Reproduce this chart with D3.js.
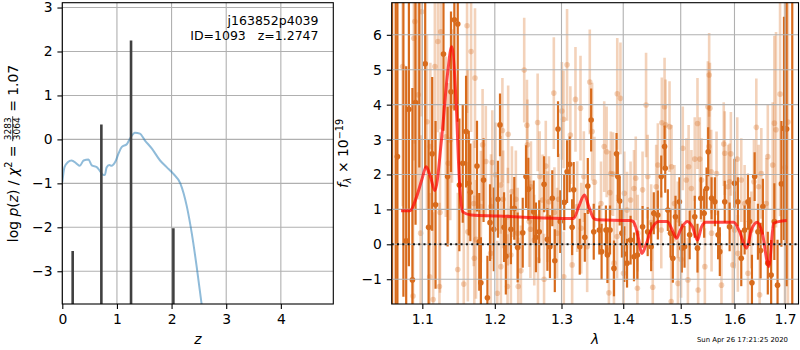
<!DOCTYPE html>
<html>
<head>
<meta charset="utf-8">
<script src="https://cdn.jsdelivr.net/npm/d3@7"></script>
<style>
  html, body { margin: 0; padding: 0; background: #fff; }
  svg { display: block; }
</style>
</head>
<body>
<script>
// ---- left panel: redshift probability ----
let pzZ = [0.00, 0.04, 0.10, 0.17, 0.26, 0.32, 0.39, 0.48, 0.54, 0.63,
           0.69, 0.74, 0.78, 0.81, 0.86, 0.90, 0.97, 1.03, 1.09, 1.18,
           1.24, 1.33, 1.42, 1.51, 1.64, 1.79, 1.91, 2.03, 2.16, 2.28,
           2.37, 2.46, 2.55, 2.61];
let pzLog = [-0.97, -0.63, -0.52, -0.48, -0.55, -0.60, -0.48, -0.46, -0.59, -0.63,
             -0.72, -0.80, -0.81, -0.64, -0.58, -0.60, -0.51, -0.32, -0.17, -0.11,
             0.02, 0.15, 0.13, -0.02, -0.21, -0.48, -0.63, -0.78, -1.00, -1.53,
             -2.14, -2.90, -3.75, -4.30];
let peakZ = [0.19, 0.715, 1.258, 2.033];
let peakTop = [-2.54, 0.34, 2.25, -2.02];
let zTicks = [0, 1, 2, 3, 4];
let logTicks = [-3, -2, -1, 0, 1, 2, 3];

// ---- right panel: spectrum [lambda, flux, error] ----
let darkSpec = [
  [1.0608, 8.2, 11.0], [1.0654, -2.4, 10.0], [1.0676, 2.51, 6.0], [1.0753, 7.5, 9.0],
  [1.0789, 0.10, 5.0], [1.0824, 3.87, 4.5], [1.0870, -1.02, 5.5], [1.0911, 4.06, 3.5],
  [1.0960, 7.2, 5.0], [1.1038, 5.17, 3.0], [1.1083, 0.49, 2.5], [1.1131, 2.59, 2.2],
  [1.1176, 1.13, 2.4], [1.1283, 5.45, 2.2], [1.1339, 1.94, 2.0], [1.1385, 4.37, 2.3],
  [1.1431, 6.43, 2.6], [1.1478, 6.31, 2.8], [1.1500, 1.70, 1.9], [1.1547, 2.32, 1.7],
  [1.1593, 3.23, 1.6], [1.1631, 1.75, 1.5], [1.1653, 1.49, 1.4], [1.1746, 2.24, 1.3],
  [1.1778, 0.07, 1.4], [1.1801, -1.10, 1.3], [1.1839, 1.84, 1.2], [1.1894, -1.53, 1.2],
  [1.1931, 0.62, 1.1], [1.1986, 0.43, 1.2], [1.2045, 1.29, 1.1], [1.2075, 3.42, 0.9],
  [1.2134, 0.49, 1.0], [1.2160, -0.34, 1.1], [1.2234, 0.43, 1.0], [1.2284, 1.03, 0.9],
  [1.2334, -0.09, 1.0], [1.2409, 0.33, 1.0], [1.2458, 1.94, 0.9], [1.2493, 1.58, 0.9],
  [1.2573, 0.93, 0.9], [1.2607, 0.20, 1.0], [1.2657, 0.36, 0.9], [1.2731, 1.72, 0.8],
  [1.2782, 0.14, 0.9], [1.2821, -0.07, 0.9], [1.2857, 1.32, 0.8], [1.2896, -0.47, 0.9],
  [1.2946, 3.30, 0.8], [1.2981, 0.65, 0.9], [1.3043, 1.20, 0.8], [1.3087, 2.08, 0.9],
  [1.3128, 2.29, 0.8], [1.3167, 0.49, 0.8], [1.3192, 1.56, 0.8], [1.3288, -0.07, 0.8],
  [1.3369, 0.20, 0.7], [1.3417, 1.67, 0.8], [1.3471, 3.56, 0.9], [1.3513, 0.36, 0.8],
  [1.3604, 0.41, 0.7], [1.3641, -0.21, 0.8], [1.3712, 0.41, 0.7], [1.3737, -0.31, 0.8],
  [1.3780, 0.41, 0.7], [1.3845, -0.69, 0.8], [1.3888, 2.59, 0.6], [1.3909, 1.94, 0.7],
  [1.3941, 1.24, 0.7], [1.3978, 0.32, 0.7], [1.4018, -0.28, 0.8], [1.4064, -0.54, 0.7],
  [1.4124, 0.12, 0.7], [1.4182, -0.36, 0.7], [1.4240, -0.31, 0.7], [1.4329, 0.50, 0.6],
  [1.4417, 0.36, 0.7], [1.4477, -0.07, 0.7], [1.4523, 0.89, 0.6], [1.4594, 0.84, 0.7],
  [1.4654, 1.94, 0.6], [1.4712, 2.80, 0.6], [1.4724, 2.18, 0.7], [1.4770, 0.98, 0.6],
  [1.4818, 0.32, 0.7], [1.4859, -0.40, 0.7], [1.4906, 0.79, 0.6], [1.4977, 1.22, 0.7],
  [1.5019, -0.11, 0.7], [1.5069, -0.07, 0.6], [1.5162, 0.27, 0.7], [1.5255, 0.79, 0.6],
  [1.5305, -0.11, 0.7], [1.5367, 1.32, 0.6], [1.5428, 0.89, 0.7], [1.5473, 1.60, 0.6],
  [1.5503, 2.65, 0.7], [1.5566, 1.32, 0.6], [1.5628, 1.22, 0.7], [1.5689, 0.27, 0.7],
  [1.5721, -0.21, 0.7], [1.5814, 1.22, 0.6], [1.5907, 0.50, 0.7], [1.6000, 1.75, 0.7],
  [1.6065, 1.22, 0.7], [1.6131, -0.40, 0.8], [1.6196, 0.41, 0.7], [1.6261, 1.22, 0.8],
  [1.6294, 0.65, 0.7], [1.6339, -1.10, 0.8], [1.6392, 1.94, 0.7], [1.6457, 0.36, 0.8],
  [1.6510, -0.18, 0.8], [1.6555, 1.08, 0.8], [1.6653, -0.54, 0.9], [1.6720, -0.88, 1.0],
  [1.6784, 0.65, 1.1], [1.6849, -1.17, 1.3], [1.6927, 1.73, 1.8], [1.6980, 3.32, 3.2],
  [1.7034, 3.30, 4.5], [1.7149, 7.6, 9.5]
];
let lightSpec = [
  [1.0743, 5.09, 4.0], [1.0878, -1.48, 3.5], [1.0888, 5.90, 3.5], [1.0901, 6.38, 3.5],
  [1.0946, 4.28, 3.0], [1.0978, 0.32, 2.8], [1.0992, 6.66, 3.0], [1.1061, 3.51, 2.5],
  [1.1097, -0.93, 2.4], [1.1107, 2.80, 2.4], [1.1144, -1.58, 2.5], [1.1167, 5.09, 2.5],
  [1.1208, 5.81, 2.6], [1.1228, -1.21, 2.4], [1.1236, 0.91, 2.3], [1.1246, 6.09, 2.8],
  [1.1315, 3.08, 2.3], [1.1347, 2.32, 2.3], [1.1375, 2.99, 2.3], [1.1399, 3.96, 2.2],
  [1.1478, -0.72, 2.2], [1.1561, -1.14, 2.0], [1.1607, 6.26, 2.5], [1.1617, 2.99, 2.0],
  [1.1618, 0.36, 2.0], [1.1663, 5.52, 2.3], [1.1700, 1.17, 1.8], [1.1708, -0.40, 1.8],
  [1.1718, 4.76, 2.0], [1.1732, 0.14, 1.7], [1.1801, 1.08, 1.6], [1.1825, 2.85, 1.6],
  [1.1871, 2.37, 1.6], [1.1940, -0.26, 1.6], [1.1945, 1.08, 1.5], [1.1964, 2.34, 1.5],
  [1.2010, 1.99, 1.5], [1.2036, -1.40, 1.5], [1.2085, 1.70, 1.4], [1.2088, -0.64, 1.4],
  [1.2110, 3.26, 1.5], [1.2122, 1.29, 1.4], [1.2185, -1.21, 1.5], [1.2189, 0.79, 1.4],
  [1.2194, 3.15, 1.4], [1.2234, -0.31, 1.4], [1.2249, 1.51, 1.3], [1.2307, 1.29, 1.4],
  [1.2334, 0.32, 1.3], [1.2342, -1.21, 1.4], [1.2382, -0.76, 1.3], [1.2431, 4.99, 1.5],
  [1.2472, 3.41, 1.3], [1.2479, 2.85, 1.3], [1.2506, 0.65, 1.3], [1.2524, 0.43, 1.4],
  [1.2532, 1.65, 1.3], [1.2582, 0.12, 1.3], [1.2633, 3.49, 1.4], [1.2638, -0.45, 1.3],
  [1.2664, 1.94, 1.3], [1.2708, 1.27, 1.3], [1.2731, -1.00, 1.3], [1.2757, 2.24, 1.3],
  [1.2782, 0.79, 1.3], [1.2806, 1.22, 1.3], [1.2881, 4.33, 1.6], [1.2890, 0.91, 1.3],
  [1.2931, 0.32, 1.3], [1.2955, 1.29, 1.3], [1.3006, 3.82, 1.4], [1.3032, 3.58, 1.4],
  [1.3036, -0.93, 1.3], [1.3087, 5.14, 1.6], [1.3139, 3.13, 1.4], [1.3167, -0.59, 1.3],
  [1.3220, 4.15, 1.5], [1.3247, 1.08, 1.3], [1.3300, 3.90, 1.5], [1.3311, 0.46, 1.3],
  [1.3353, 1.94, 1.3], [1.3407, -0.07, 1.3], [1.3449, 4.65, 1.5], [1.3487, 3.23, 1.4],
  [1.3524, 1.78, 1.3], [1.3631, 1.17, 1.2], [1.3684, 2.80, 1.3], [1.3724, 2.65, 1.3],
  [1.3761, -1.39, 1.3], [1.3777, 1.48, 1.2], [1.3793, 2.03, 1.2], [1.3830, 2.01, 1.2],
  [1.3845, -0.54, 1.2], [1.3897, 0.22, 1.2], [1.3900, 4.31, 1.6], [1.3953, 4.18, 1.6],
  [1.4005, -0.83, 1.2], [1.4018, 1.46, 1.2], [1.4064, 0.98, 1.1], [1.4124, 1.27, 1.1],
  [1.4182, 1.60, 1.1], [1.4212, 1.89, 1.2], [1.4240, -1.26, 1.2], [1.4245, 0.32, 1.1],
  [1.4329, 1.56, 1.1], [1.4389, 3.99, 1.5], [1.4417, 1.94, 1.2], [1.4477, 0.62, 1.1],
  [1.4505, -1.23, 1.2], [1.4565, 1.65, 1.2], [1.4594, 2.27, 1.2], [1.4654, 0.41, 1.1],
  [1.4664, 3.48, 1.3], [1.4712, 3.94, 1.4], [1.4730, 3.42, 1.3], [1.4800, 3.37, 1.3],
  [1.4830, -1.64, 1.3], [1.4835, 2.22, 1.2], [1.4888, 1.17, 1.1], [1.4947, 0.70, 1.1],
  [1.4950, -1.12, 1.2], [1.5007, -0.43, 1.1], [1.5037, 2.75, 1.2], [1.5101, 1.84, 1.2],
  [1.5130, -1.02, 1.2], [1.5143, 2.22, 1.2], [1.5194, 1.60, 1.1], [1.5255, 2.44, 1.2],
  [1.5305, 3.46, 1.3], [1.5317, -1.31, 1.2], [1.5348, 2.44, 1.2], [1.5380, 1.84, 1.2],
  [1.5441, -0.64, 1.1], [1.5497, 3.94, 1.3], [1.5516, 2.80, 1.2], [1.5521, 4.85, 1.2],
  [1.5535, 3.90, 1.3], [1.5559, 2.08, 1.2], [1.5566, 0.32, 1.1], [1.5659, 2.03, 1.2],
  [1.5752, -1.17, 1.2], [1.5795, 2.87, 1.2], [1.5814, 2.61, 1.2], [1.5875, 1.65, 1.2],
  [1.5907, 1.79, 1.1], [1.5931, 2.59, 1.2], [1.5968, -0.59, 1.1], [1.6003, 0.41, 1.1],
  [1.6053, 2.44, 1.2], [1.6065, -0.26, 1.1], [1.6131, 1.84, 1.2], [1.6196, 1.17, 1.1],
  [1.6261, -0.83, 1.2], [1.6327, 0.41, 1.1], [1.6378, 1.79, 1.2], [1.6425, 3.35, 1.4],
  [1.6471, 1.65, 1.2], [1.6490, -1.45, 1.3], [1.6524, 2.03, 1.3], [1.6622, 1.17, 1.3],
  [1.6653, 2.51, 1.5], [1.6751, 2.27, 1.8], [1.6784, 3.47, 2.5], [1.6818, 3.28, 2.8],
  [1.6900, 4.30, 3.5], [1.7000, 2.20, 5.0], [1.7060, 3.50, 6.0]
];
let modelLam = [1.0722, 1.0834, 1.0924, 1.0992, 1.1051, 1.1107, 1.1167, 1.1256, 1.1339, 1.1394,
                1.1454, 1.1500, 1.1547, 1.1663, 1.2036, 1.2496, 1.3139, 1.3192, 1.3272, 1.3364,
                1.3433, 1.3513, 1.3568, 1.4111, 1.4170, 1.4240, 1.4318, 1.4376, 1.4465, 1.4611,
                1.4760, 1.4848, 1.4924, 1.4995, 1.5119, 1.5212, 1.5305, 1.5380, 1.5460, 1.5987,
                1.6085, 1.6235, 1.6328, 1.6445, 1.6543, 1.6673, 1.6771, 1.6870, 1.7035];
let modelFlux = [0.96, 0.96, 1.36, 1.84, 2.22, 1.94, 1.54, 2.99, 4.90, 5.66,
                 4.13, 1.84, 0.93, 0.84, 0.81, 0.77, 0.74, 0.74, 1.08, 1.41,
                 1.08, 0.74, 0.70, 0.68, 0.65, 0.32, -0.26, -0.07, 0.36, 0.65,
                 0.65, 0.41, 0.17, 0.41, 0.65, 0.50, 0.12, 0.50, 0.63, 0.63,
                 0.41, -0.11, 0.41, 0.63, 0.32, -0.64, 0.60, 0.65, 0.68];
let lamTicks = [1.1, 1.2, 1.3, 1.4, 1.5, 1.6, 1.7];
let fluxTicks = [-1, 0, 1, 2, 3, 4, 5, 6];

let opts = { width: 800, height: 350, font: "DejaVu Sans", fs: 13.9 };
let leftBox = { x0: 62.3, x1: 333.3, y0: 2.7, y1: 304 };
let rightBox = { x0: 391.7, x1: 798.5, y0: 2.7, y1: 304 };
let orange = "#d86b1c";

let svg = d3.select("body").append("svg")
    .attr("width", opts.width).attr("height", opts.height)
    .attr("font-family", opts.font);
let defs = svg.append("defs");

let xz = d3.scaleLinear().domain([0, 4.96]).range([leftBox.x0, leftBox.x1]);
let yz = d3.scaleLinear().domain([-3.745, 3.11]).range([leftBox.y1, leftBox.y0]);
let xl = d3.scaleLog().domain([1.0603, 1.7278]).range([rightBox.x0, rightBox.x1]);
let yl = d3.scaleLinear().domain([-1.71, 6.92]).range([rightBox.y1, rightBox.y0]);

addClip("clipPz", leftBox);
addClip("clipSpec", rightBox);

// left panel
drawGrid(xz, yz, zTicks, logTicks, leftBox);
let pzG = svg.append("g").attr("clip-path", "url(#clipPz)");
pzG.append("path")
    .datum(pzZ.map((z, i) => [z, pzLog[i]]))
    .attr("d", d3.line().x(d => xz(d[0])).y(d => yz(d[1])).curve(d3.curveMonotoneX))
    .attr("fill", "none").attr("stroke", "#1f77b4").attr("stroke-opacity", 0.5)
    .attr("stroke-width", 2);
pzG.selectAll(".peak").data(peakZ).enter().append("line")
    .attr("x1", d => xz(d)).attr("x2", d => xz(d))
    .attr("y1", leftBox.y1 + 2).attr("y2", (d, i) => yz(peakTop[i]))
    .attr("stroke", "#404040").attr("stroke-width", 2.6);
drawAxes(xz, yz, zTicks, logTicks, d3.format("d"), d3.format("d"), leftBox);

svg.append("text").attr("x", 318.5).attr("y", 25).attr("text-anchor", "end")
    .attr("font-size", 12.5).text("j163852p4039");
svg.append("text").attr("x", 318.5).attr("y", 39.5).attr("text-anchor", "end")
    .attr("font-size", 12.5).style("white-space", "pre").text("ID=1093   z=1.2747");

// right panel
let specG = svg.append("g").attr("clip-path", "url(#clipSpec)");
drawErrors(specG, lightSpec, 0.3, 2.6);
drawErrors(specG, darkSpec, 1, 2.2);
drawGrid(xl, yl, lamTicks, fluxTicks, rightBox);
let topG = svg.append("g").attr("clip-path", "url(#clipSpec)");
topG.append("path")
    .datum(modelLam.map((l, i) => [l, modelFlux[i]]))
    .attr("d", d3.line().x(d => xl(d[0])).y(d => yl(d[1])).curve(d3.curveMonotoneX))
    .attr("fill", "none").attr("stroke", "red").attr("stroke-opacity", 0.7)
    .attr("stroke-width", 3).attr("stroke-linejoin", "round");
topG.append("line")
    .attr("x1", rightBox.x0).attr("x2", rightBox.x1)
    .attr("y1", yl(0)).attr("y2", yl(0))
    .attr("stroke", "#111").attr("stroke-width", 2).attr("stroke-dasharray", "2,3.3");
drawAxes(xl, yl, lamTicks, fluxTicks, d3.format(".1f"), d3.format("d"), rightBox);

// axis labels
svg.append("text").attr("x", (leftBox.x0 + leftBox.x1) / 2).attr("y", 344)
    .attr("text-anchor", "middle").attr("font-size", opts.fs)
    .style("font-style", "italic").text("z");
svg.append("text").attr("x", (rightBox.x0 + rightBox.x1) / 2).attr("y", 344)
    .attr("text-anchor", "middle").attr("font-size", opts.fs)
    .style("font-style", "italic").text("λ");

mathLabel(17.5, 153.5, [
    { t: "log " }, { t: "p", it: true }, { t: "(" }, { t: "z", it: true }, { t: ")" },
    { t: " / " }, { t: "χ", it: true }, { t: "2", size: 9.7, dy: -5.5 }, { t: " = " },
    { num: "3283", den: "3064", size: 9, numY: -7, denY: 2.2, barY: -4.8 },
    { t: " = 1.07" }
]);
mathLabel(348.3, 153.5, [
    { t: "f", it: true }, { t: "λ", it: true, size: 9.7, dy: 2.4 },
    { t: " × 10" }, { t: "−19", size: 9.7, dy: -5.3 }
]);

svg.append("text").attr("x", 788).attr("y", 342).attr("text-anchor", "end")
    .attr("font-size", 6.9).text("Sun Apr 26 17:21:25 2020");

// ---- helpers ----
function addClip(id, b) {
    defs.append("clipPath").attr("id", id).append("rect")
        .attr("x", b.x0).attr("y", b.y0)
        .attr("width", b.x1 - b.x0).attr("height", b.y1 - b.y0);
}

function drawGrid(x, y, xt, yt, b) {
    let g = svg.append("g").attr("stroke", "#b0b0b0").attr("stroke-width", 1.1);
    g.selectAll(".gx").data(xt).enter().append("line")
        .attr("x1", d => x(d)).attr("x2", d => x(d))
        .attr("y1", b.y0).attr("y2", b.y1);
    g.selectAll(".gy").data(yt).enter().append("line")
        .attr("y1", d => y(d)).attr("y2", d => y(d))
        .attr("x1", b.x0).attr("x2", b.x1);
}

function drawAxes(x, y, xt, yt, xf, yf, b) {
    let ax = svg.append("g").attr("transform", `translate(0,${b.y1})`)
        .call(d3.axisBottom(x).tickValues(xt).tickFormat(xf).tickSize(4.9).tickPadding(4.9));
    let ay = svg.append("g").attr("transform", `translate(${b.x0},0)`)
        .call(d3.axisLeft(y).tickValues(yt).tickFormat(yf).tickSize(4.9).tickPadding(4.9));
    [ax, ay].forEach(a => {
        a.attr("font-family", null).attr("font-size", null);
        a.select(".domain").remove();
        a.selectAll(".tick line").attr("stroke", "#000").attr("stroke-width", 1.1);
        a.selectAll(".tick text").attr("font-size", opts.fs).attr("fill", "#000");
    });
    svg.append("rect")
        .attr("x", b.x0).attr("y", b.y0)
        .attr("width", b.x1 - b.x0).attr("height", b.y1 - b.y0)
        .attr("fill", "none").attr("stroke", "#000").attr("stroke-width", 1.1);
}

function drawErrors(g, data, alpha, w) {
    let s = g.append("g");
    s.selectAll("line").data(data).enter().append("line")
        .attr("x1", d => xl(d[0])).attr("x2", d => xl(d[0]))
        .attr("y1", d => yl(d[1] - d[2])).attr("y2", d => yl(d[1] + d[2]))
        .attr("stroke", orange).attr("stroke-opacity", alpha).attr("stroke-width", w);
    s.selectAll("circle").data(data).enter().append("circle")
        .attr("cx", d => xl(d[0])).attr("cy", d => yl(d[1])).attr("r", 2.8)
        .attr("fill", orange).attr("fill-opacity", alpha);
}

// lays out a mathtext-like label along a rotated baseline
function mathLabel(cx, cy, pieces) {
    let g = svg.append("g").attr("transform", `translate(${cx},${cy}) rotate(-90)`);
    let inner = g.append("g");
    let x = 0;
    pieces.forEach(p => {
        if (p.num) {
            let n = inner.append("text").attr("y", p.numY).attr("font-size", p.size).text(p.num);
            let d = inner.append("text").attr("y", p.denY).attr("font-size", p.size).text(p.den);
            let w = Math.max(n.node().getComputedTextLength(), d.node().getComputedTextLength()) + 2;
            n.attr("x", x + w / 2).attr("text-anchor", "middle");
            d.attr("x", x + w / 2).attr("text-anchor", "middle");
            inner.append("line").attr("x1", x).attr("x2", x + w)
                .attr("y1", p.barY).attr("y2", p.barY)
                .attr("stroke", "#000").attr("stroke-width", 0.8);
            x += w;
        } else {
            let t = inner.append("text").attr("x", x).attr("y", p.dy || 0)
                .attr("font-size", p.size || opts.fs)
                .style("font-style", p.it ? "italic" : "normal")
                .style("white-space", "pre").text(p.t);
            x += t.node().getComputedTextLength();
        }
    });
    inner.attr("transform", `translate(${-x / 2},0)`);
}
</script>
</body>
</html>
